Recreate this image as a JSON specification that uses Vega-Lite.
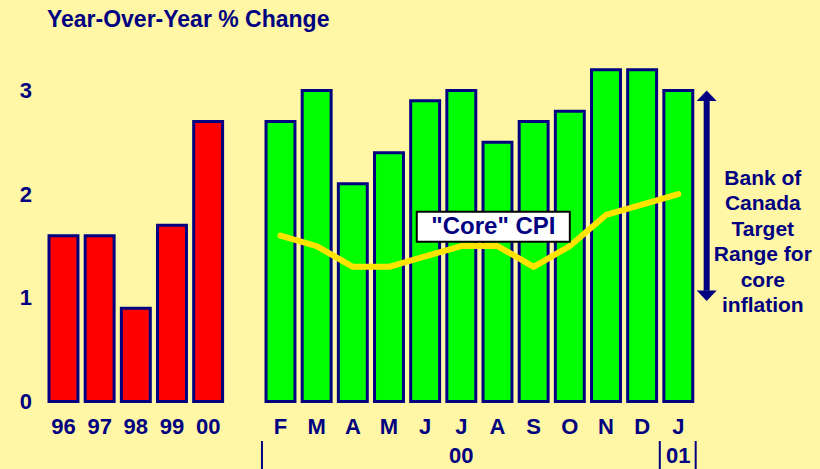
{
  "$schema": "https://vega.github.io/schema/vega-lite/v6.json",
  "width": 651,
  "height": 420,
  "autosize": {"type": "none"},
  "padding": {"left": 45.4, "top": 49, "right": 123.6, "bottom": 0},
  "background": "#FFF7A6",
  "config": {"view": {"stroke": null}, "font": "Liberation Sans"},
  "title": {"text": "Year-Over-Year % Change", "anchor": "start", "frame": "group", "fontSize": 23, "font": "Liberation Sans", "fontWeight": "bold", "color": "#000080", "offset": 22, "baseline": "alphabetic", "dx": 1.5, "dy": 23},
  "datasets": {
    "bars": [
      {"k": "96", "label": "96", "v": 1.6, "grp": "year"},
      {"k": "97", "label": "97", "v": 1.6, "grp": "year"},
      {"k": "98", "label": "98", "v": 0.9, "grp": "year"},
      {"k": "99", "label": "99", "v": 1.7, "grp": "year"},
      {"k": "00", "label": "00", "v": 2.7, "grp": "year"},
      {"k": "F", "label": "F", "v": 2.7, "grp": "month", "core": 1.6},
      {"k": "M1", "label": "M", "v": 3.0, "grp": "month", "core": 1.5},
      {"k": "A1", "label": "A", "v": 2.1, "grp": "month", "core": 1.3},
      {"k": "M2", "label": "M", "v": 2.4, "grp": "month", "core": 1.3},
      {"k": "J1", "label": "J", "v": 2.9, "grp": "month", "core": 1.4},
      {"k": "J2", "label": "J", "v": 3.0, "grp": "month", "core": 1.5},
      {"k": "A2", "label": "A", "v": 2.5, "grp": "month", "core": 1.5},
      {"k": "S", "label": "S", "v": 2.7, "grp": "month", "core": 1.3},
      {"k": "O", "label": "O", "v": 2.8, "grp": "month", "core": 1.5},
      {"k": "N", "label": "N", "v": 3.2, "grp": "month", "core": 1.8},
      {"k": "D", "label": "D", "v": 3.2, "grp": "month", "core": 1.9},
      {"k": "J3", "label": "J", "v": 3.0, "grp": "month", "core": 2.0}
    ]
  },
  "layer": [
    {
      "data": {"name": "bars"},
      "mark": {"type": "bar", "stroke": "#000080", "strokeWidth": 3},
      "encoding": {
        "x": {"field": "k", "type": "nominal", "axis": null,
          "scale": {"domain": ["96", "97", "98", "99", "00", "gap", "F", "M1", "A1", "M2", "J1", "J2", "A2", "S", "O", "N", "D", "J3"], "paddingInner": 0.2, "paddingOuter": 0.1}},
        "y": {"field": "v", "type": "quantitative",
          "scale": {"domain": [-0.65, 3.4], "nice": false, "zero": false},
          "axis": {"values": [0, 1, 2, 3], "format": "d", "domain": false, "ticks": false, "grid": false, "title": null, "labelFontSize": 22, "labelFontWeight": "bold", "labelColor": "#000080", "labelPadding": 14, "labelFont": "Liberation Sans"}},
        "y2": {"datum": 0},
        "color": {"field": "grp", "type": "nominal", "scale": {"domain": ["year", "month"], "range": ["#FF0000", "#00FF00"]}, "legend": null}
      }
    },
    {
      "data": {"name": "bars"},
      "transform": [{"filter": "datum.grp === 'month'"}],
      "mark": {"type": "line", "color": "#FFE400", "strokeWidth": 6, "strokeJoin": "round", "strokeCap": "round"},
      "encoding": {
        "x": {"field": "k", "type": "nominal"},
        "y": {"field": "core", "type": "quantitative"},
        "order": {"value": null}
      }
    },
    {
      "data": {"name": "bars"},
      "mark": {"type": "text", "fontSize": 22, "fontWeight": "bold", "color": "#000080", "baseline": "alphabetic", "align": "center"},
      "encoding": {
        "x": {"field": "k", "type": "nominal"},
        "y": {"datum": -0.315},
        "text": {"field": "label"}
      }
    },
    {
      "data": {"values": [{"k": "J2", "label": "00"}, {"k": "J3", "label": "01"}]},
      "mark": {"type": "text", "fontSize": 22, "fontWeight": "bold", "color": "#000080", "baseline": "alphabetic", "align": "center"},
      "encoding": {
        "x": {"field": "k", "type": "nominal"},
        "y": {"datum": -0.595},
        "text": {"field": "label"}
      }
    },
    {
      "data": {"values": [{"k": "F"}, {"k": "J3"}]},
      "mark": {"type": "rule", "color": "#000080", "strokeWidth": 2},
      "encoding": {
        "x": {"field": "k", "type": "nominal", "bandPosition": -0.14},
        "y": {"datum": -0.38},
        "y2": {"datum": -0.65}
      }
    },
    {
      "data": {"values": [{"k": "J3"}]},
      "mark": {"type": "rule", "color": "#000080", "strokeWidth": 2},
      "encoding": {
        "x": {"field": "k", "type": "nominal", "bandPosition": 1.1},
        "y": {"datum": -0.38},
        "y2": {"datum": -0.65}
      }
    },
    {
      "data": {"values": [{"a": "J1", "b": "O"}]},
      "mark": {"type": "rect", "fill": "#FFFFFF", "stroke": "#000000", "strokeWidth": 2},
      "encoding": {
        "x": {"field": "a", "type": "nominal", "bandPosition": 0.21},
        "x2": {"field": "b", "bandPosition": 0.5},
        "y": {"datum": 1.542},
        "y2": {"datum": 1.831}
      }
    },
    {
      "data": {"values": [{"k": "A2", "t": "\"Core\" CPI"}]},
      "mark": {"type": "text", "fontSize": 24, "fontWeight": "bold", "color": "#000080", "baseline": "middle", "align": "center"},
      "encoding": {
        "x": {"field": "k", "type": "nominal", "bandPosition": 0.36},
        "y": {"datum": 1.686},
        "text": {"field": "t"}
      }
    },
    {
      "data": {"values": [{"k": "J3"}]},
      "mark": {"type": "rule", "color": "#000080", "strokeWidth": 6},
      "encoding": {
        "x": {"field": "k", "type": "nominal", "bandPosition": 1.48},
        "y": {"datum": 2.9},
        "y2": {"datum": 1.07}
      }
    },
    {
      "data": {"values": [{"k": "J3", "pos": 3.0, "dir": "up"}, {"k": "J3", "pos": 0.97, "dir": "down"}]},
      "mark": {"type": "point", "filled": true, "opacity": 1, "size": 400, "color": "#000080", "strokeWidth": 0},
      "encoding": {
        "x": {"field": "k", "type": "nominal", "bandPosition": 1.48},
        "y": {"field": "pos", "type": "quantitative"},
        "shape": {"field": "dir", "type": "nominal", "legend": null, "scale": {"domain": ["up", "down"], "range": ["M0,0L1,1.06L-1,1.06Z", "M0,0L1,-1.06L-1,-1.06Z"]}}
      }
    },
    {
      "data": {"values": [{"k": "J3", "t": "Bank of\nCanada\nTarget\nRange for\ncore\ninflation"}]},
      "mark": {"type": "text", "fontSize": 21, "fontWeight": "bold", "color": "#000080", "baseline": "middle", "align": "center", "lineBreak": "\n", "lineHeight": 25.5},
      "encoding": {
        "x": {"field": "k", "type": "nominal", "bandPosition": 3.42},
        "y": {"datum": 2.147},
        "text": {"field": "t"}
      }
    }
  ]
}
